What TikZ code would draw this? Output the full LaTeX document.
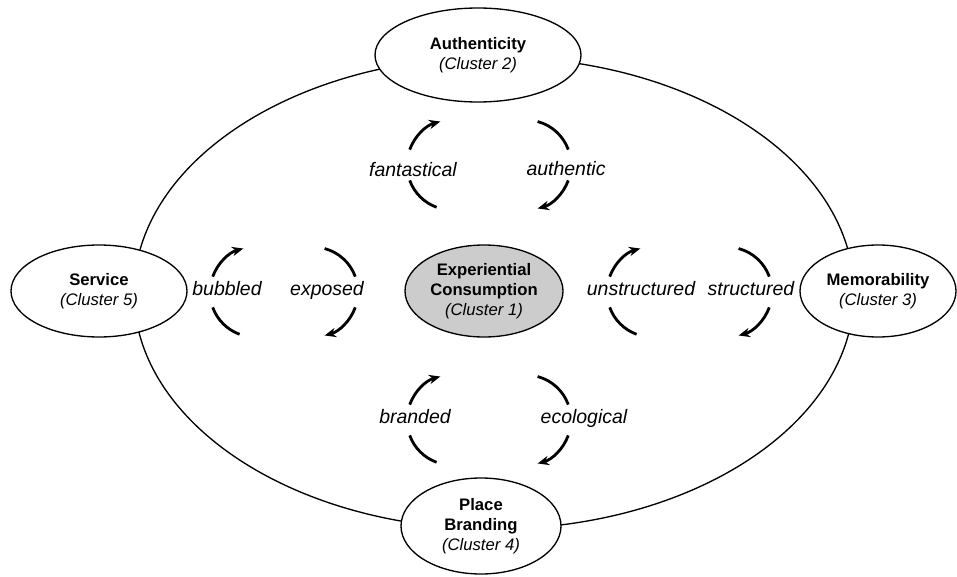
\documentclass[tikz,border=0pt]{standalone}
\usepackage{fontspec}
\setmainfont{Liberation Sans}
\usepackage{tikz}
\usetikzlibrary{shapes.geometric,arrows.meta}

\tikzset{
  cluster/.style={ellipse, draw, line width=1pt, fill=white, inner sep=0pt,
    align=center, font=\fontsize{12.5}{15}\selectfont},
  flow/.style={line width=2.1pt},
  flowtip/.style={flow, -{Stealth[length=8.5pt,width=7pt]}},
  pole/.style={font=\fontsize{14.6}{17}\selectfont\itshape, anchor=mid}
}

\begin{document}
\begin{tikzpicture}[x=0.75pt, y=0.75pt]
    \useasboundingbox (0,0) rectangle (957,576);

    % outer ring
    \draw[line width=1pt] (494,283) ellipse [x radius=360, y radius=236];

    \node[cluster, fill=gray!40, minimum width=118.5pt, minimum height=69pt] (exp1) at (484,285)
      {\textbf{Experiential}\\\textbf{Consumption}\\\textit{(Cluster 1)}};
    \node[cluster, minimum width=154.5pt, minimum height=70.5pt] (auth2) at (478,521)
      {\textbf{Authenticity}\\\textit{(Cluster 2)}};
    \node[cluster, minimum width=117pt, minimum height=69pt] (mem3) at (878,285)
      {\textbf{Memorability}\\\textit{(Cluster 3)}};
    \node[cluster, minimum width=120pt, minimum height=72pt] (place4) at (481,50)
      {\textbf{Place}\\\textbf{Branding}\\\textit{(Cluster 4)}};
    \node[cluster, minimum width=132pt, minimum height=69pt] (serv5) at (99,285)
      {\textbf{Service}\\\textit{(Cluster 5)}};

    \coordinate (c-fan) at (452,411);
    \coordinate (c-aut) at (526,411);
    \coordinate (c-bub) at (255,284);
    \coordinate (c-exp) at (313,284);
    \coordinate (c-uns) at (652,284);
    \coordinate (c-str) at (727,284);
    \coordinate (c-bra) at (452,156);
    \coordinate (c-eco) at (526,156);

    \node[pole] (fan) at (413,403) {fantastical};
    \node[pole] (aut) at (566,404) {authentic};
    \node[pole] (bub) at (227,284) {bubbled};
    \node[pole] (exp) at (327,284) {exposed};
    \node[pole] (uns) at (641,284) {unstructured};
    \node[pole] (str) at (751,284) {structured};
    \node[pole] (bra) at (415,156) {branded};
    \node[pole] (eco) at (584,156) {ecological};

    % arrows out to the outer clusters
    \foreach \c in {fan,bub,uns,bra} {
      \draw[flowtip] (c-\c) ++(160:45) arc (160:105:45);
      \draw[flow] (c-\c) ++(200:45) arc (200:250:45);
    }
    % arrows back to the centre
    \foreach \c in {aut,exp,str,eco} {
      \draw[flow] (c-\c) ++(75:45) arc (75:20:45);
      \draw[flowtip] (c-\c) ++(-20:45) arc (-20:-75:45);
    }
\end{tikzpicture}
\end{document}
